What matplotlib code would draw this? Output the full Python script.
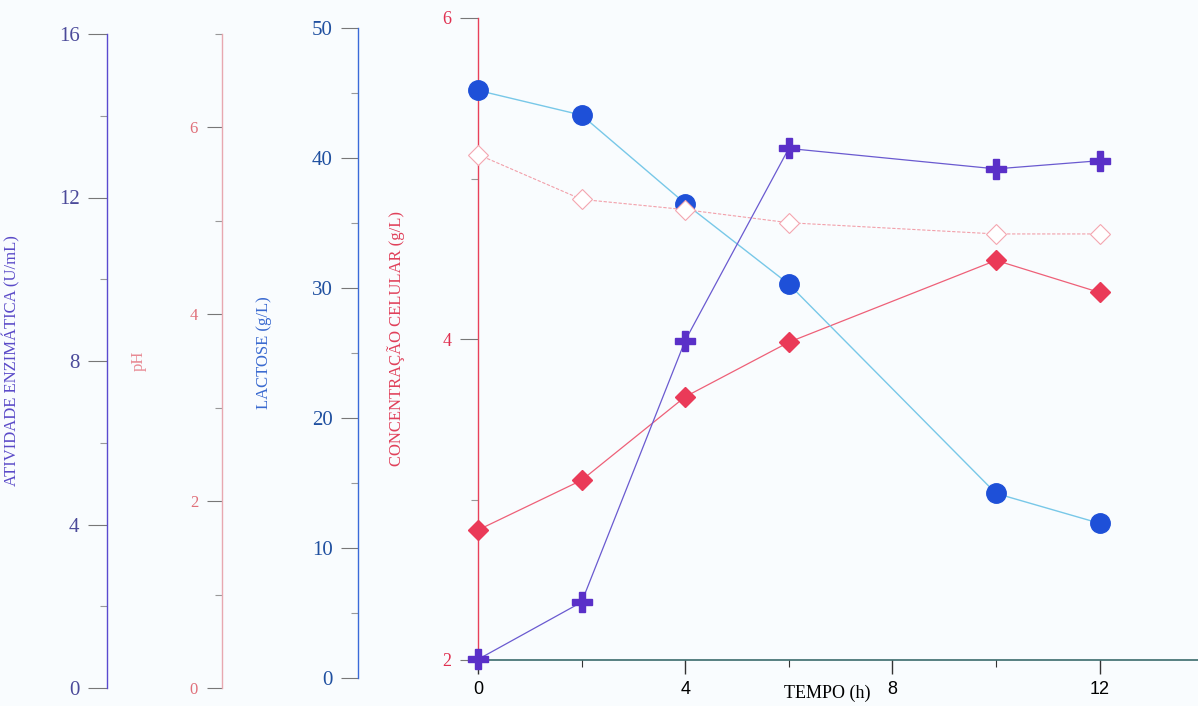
import matplotlib.pyplot as plt
from matplotlib.ticker import MultipleLocator

# --- Dados do ensaio ---
tempo = [0, 2, 4, 6, 10, 12]                       # h
lactose = [45.2, 43.3, 36.5, 30.3, 14.2, 11.9]     # g/L
atividade = [0.7, 2.1, 8.5, 13.2, 12.7, 12.9]      # U/mL
celulas = [2.81, 3.12, 3.64, 3.98, 4.49, 4.29]     # g/L
ph = [5.71, 5.23, 5.12, 4.98, 4.86, 4.86]

x_ticks = [0, 4, 8, 12]

W, H = 1198, 706
BG = '#f9fcfe'
SERIF = 'Liberation Serif'


def frame(left_px, top_px, bottom_px, right_px=W):
    return [left_px / W, (H - bottom_px) / H,
            (right_px - left_px) / W, (bottom_px - top_px) / H]


fig = plt.figure(figsize=(W / 100, H / 100), dpi=100, facecolor=BG)

# eixo principal: concentracao celular + tempo
ax = fig.add_axes(frame(478, 18, 660), facecolor=BG)
ax.set_xlim(0, 13.9)
ax.set_ylim(2, 6)

# eixos secundarios, cada um com sua propria escala
ax_lac = fig.add_axes(frame(478, 28, 678), sharex=ax)
ax_ph = fig.add_axes(frame(478, 34, 688), sharex=ax)
ax_enz = fig.add_axes(frame(478, 34, 688), sharex=ax)

ax_lac.set_ylim(0, 50)
ax_ph.set_ylim(0, 7)
ax_enz.set_ylim(0, 16)

axis_cfg = [
    # axes, spine pos, spine color, tick color, label, label color, size, tick len, major, minor, label x
    (ax, 0.0, '#e8405a', '#e03050', 'CONCENTRAÇÃO CELULAR (g/L)', '#e0405a', 13, 13, 2, 1, -0.101),
    (ax_lac, -0.167, '#3a6ad8', '#2050a0', 'LACTOSE (g/L)', '#3a6ad0', 15, 12, 10, 5, -0.286),
    (ax_ph, -0.356, '#e8a8b0', '#e0707a', 'pH', '#e88a94', 12, 11, 2, 1, -0.46),
    (ax_enz, -0.515, '#5a4ad0', '#4b4a9a', 'ATIVIDADE ENZIMÁTICA (U/mL)', '#5a4ac8', 15, 14, 4, 2, -0.636),
]

for a, pos, sc, tc, lab, lc, fs, tl, major, minor, lx in axis_cfg:
    for side in ['top', 'right']:
        a.spines[side].set_visible(False)
    if a is not ax:
        a.spines['bottom'].set_visible(False)
    a.spines['left'].set_position(('axes', pos))
    a.spines['left'].set_color(sc)
    a.spines['left'].set_linewidth(1.0)
    a.yaxis.set_major_locator(MultipleLocator(major))
    a.yaxis.set_minor_locator(MultipleLocator(minor))
    a.tick_params(axis='y', which='major', direction='out', length=tl, width=0.8,
                  color='#777777', labelcolor=tc, labelsize=fs, pad=6)
    a.tick_params(axis='y', which='minor', direction='out', length=5, width=0.8,
                  color='#999999')
    for t in a.get_yticklabels():
        t.set_family(SERIF)
    a.set_ylabel(lab, color=lc, fontsize=12, family=SERIF)
    a.yaxis.set_label_coords(lx, 0.5)
    if a is not ax:
        a.patch.set_visible(False)
        a.tick_params(axis='x', which='both', bottom=False, labelbottom=False)

# eixo do tempo
ax.spines['bottom'].set_color('#2a5f60')
ax.spines['bottom'].set_linewidth(1.1)
ax.set_xticks(x_ticks)
ax.xaxis.set_minor_locator(MultipleLocator(2))
ax.tick_params(axis='x', which='major', direction='out', length=10, width=1.0,
               color='#333333', labelsize=13, pad=5)
ax.tick_params(axis='x', which='minor', direction='out', length=5, width=0.8,
               color='#333333')
for t in ax.get_xticklabels():
    t.set_family('Liberation Sans')
ax.set_xlabel('TEMPO (h)', fontsize=13, family=SERIF)
ax.xaxis.set_label_coords(0.485, -0.038)

# series
ax_ph.plot(tempo, ph, color='#f2a0aa', lw=0.8, ls=(0, (3, 1.5)),
           marker='D', ms=10, mfc='white', mec='#f4a6b0', mew=0.8,
           clip_on=False, zorder=3)
ax.plot(tempo, celulas, color='#ee6078', lw=0.9,
        marker='D', ms=10, mfc='#ea3a58', mec='#ea3a58',
        clip_on=False, zorder=4)
ax_enz.plot(tempo, atividade, color='#6a5ad0', lw=0.9,
            marker='P', ms=14, mfc='#5a30c8', mec='#5a30c8',
            clip_on=False, zorder=5)
ax_lac.plot(tempo, lactose, color='#78c8e8', lw=1.0,
            marker='o', ms=14, mfc='#1e50d8', mec='#1e50d8',
            clip_on=False, zorder=6)

fig.savefig('out.png', dpi=100, facecolor=BG)
